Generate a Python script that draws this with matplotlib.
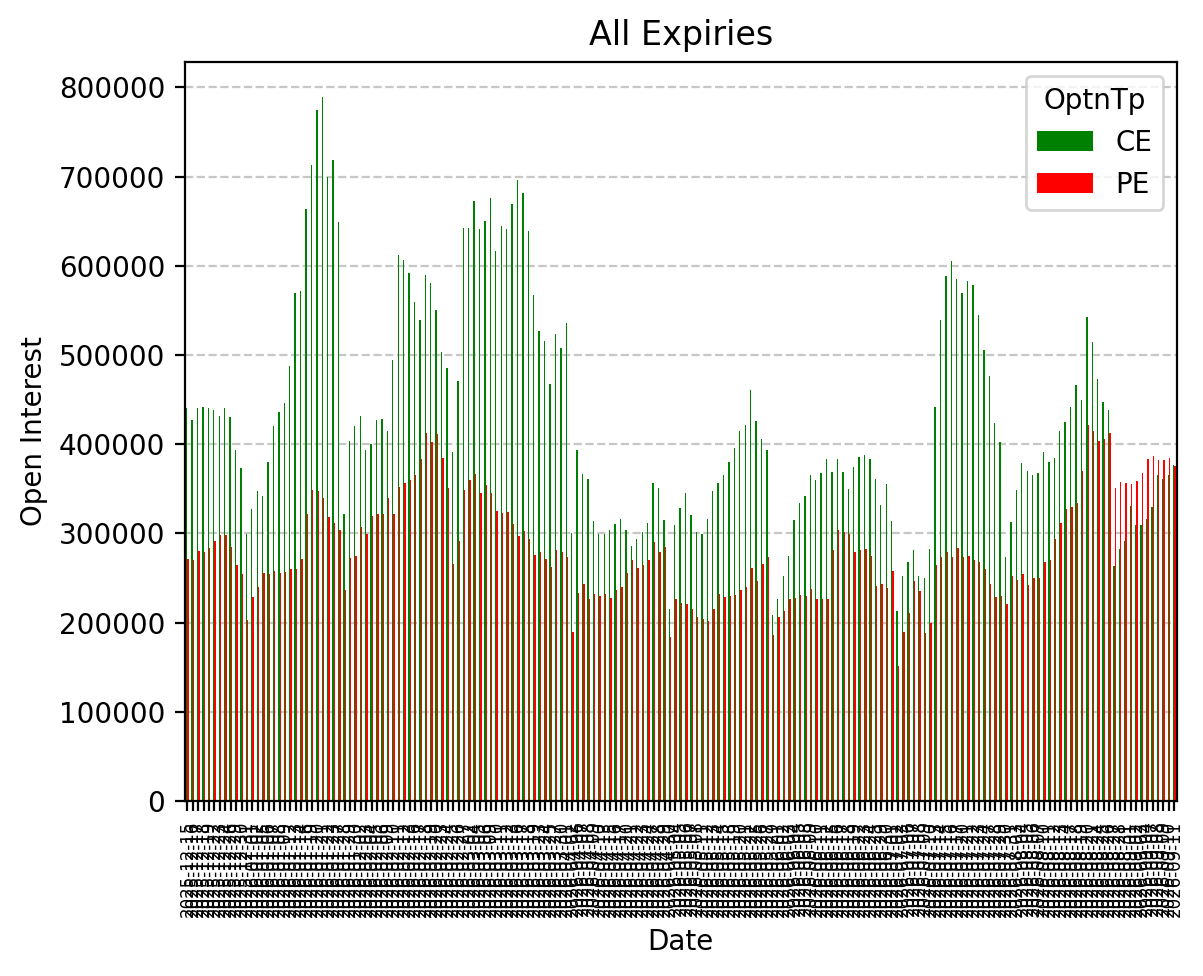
import numpy as np
import pandas as pd
import matplotlib
matplotlib.use('Agg')
import matplotlib.pyplot as plt

# trading days between the first and last label, exchange holidays removed
HOLIDAYS = ['2025-12-25', '2026-01-15', '2026-01-26', '2026-03-03', '2026-03-20',
            '2026-03-26', '2026-03-31', '2026-04-03', '2026-04-14', '2026-05-01',
            '2026-05-28', '2026-06-26']
dates = [d.strftime('%Y-%m-%d') for d in pd.bdate_range('2025-12-15', '2026-09-11')
         if d.strftime('%Y-%m-%d') not in HOLIDAYS]

# open interest, thousands
ce_k = [440, 427, 440, 442, 440, 438, 432, 441, 430, 394, 373, 299, 327, 348, 342, 380,
        420, 436, 446, 488, 569, 572, 664,
        713, 775, 789, 699, 719, 649, 322, 404, 420, 432, 394, 400, 427, 428, 415, 494,
        612, 607, 592, 559, 539, 590,
        581, 550, 503, 485, 391, 471, 642, 642, 673, 641, 650, 676, 617, 645, 641, 669,
        696, 682, 639, 567, 527, 516, 467,
        524, 508, 536, 300, 394, 367, 361, 314, 299, 299, 304, 310, 316, 304, 286, 294,
        301, 312, 357, 351, 315, 215, 309,
        329, 345, 321, 302, 299, 316, 348, 356, 366, 380, 396, 415, 421, 461, 426, 406,
        394, 208, 227, 252, 275, 315, 334,
        342, 366, 360, 368, 383, 369, 383, 369, 350, 374, 386, 388, 383, 361, 332, 355,
        314, 213, 252, 268, 281, 252, 250,
        283, 442, 539, 588, 605, 585, 570, 583, 578, 545, 506, 476, 424, 403, 274, 313,
        349, 379, 370, 366, 368, 391, 380,
        385, 415, 425, 442, 466, 450, 543, 514, 473, 447, 438, 263, 282, 292, 331, 309,
        309, 316, 330, 365, 361, 365, 377]

pe_k = [271, 270, 280, 279, 284, 292, 298, 298, 285, 264, 255, 203, 229, 240, 256, 255,
        258, 256, 257, 260, 260, 271, 322,
        349, 347, 340, 318, 312, 304, 236, 272, 275, 307, 299, 319, 322, 322, 340, 322,
        352, 357, 360, 366, 383, 412,
        403, 411, 384, 351, 266, 292, 349, 360, 367, 345, 354, 345, 325, 323, 324, 311,
        297, 303, 294, 276, 279, 271, 262,
        281, 279, 273, 190, 233, 243, 226, 232, 230, 232, 228, 237, 240, 256, 270, 261,
        264, 270, 290, 279, 285, 184, 226,
        222, 221, 215, 206, 204, 202, 215, 232, 229, 230, 231, 237, 240, 261, 247, 266,
        273, 186, 206, 213, 227, 228, 231,
        230, 238, 226, 227, 226, 281, 304, 301, 299, 279, 281, 283, 275, 241, 243, 239,
        258, 151, 190, 211, 247, 235, 188,
        200, 265, 274, 279, 273, 284, 274, 275, 270, 268, 260, 243, 229, 230, 221, 252,
        248, 255, 242, 250, 250, 268, 270,
        294, 312, 327, 330, 334, 370, 421, 415, 404, 406, 413, 351, 358, 356, 355, 359,
        368, 383, 387, 382, 382, 384, 376]

ce = np.array(ce_k) * 1000
pe = np.array(pe_k) * 1000

fig = plt.figure(figsize=(6.015, 4.88), dpi=200)
ax = fig.add_axes([0.1535, 0.1793, 0.8249, 0.7572])

x = np.arange(len(dates))
ax.bar(x - 0.125, ce, width=0.25, color='green', label='CE')
ax.bar(x + 0.125, pe, width=0.25, color='red', label='PE')

ax.set_xlim(-0.5, len(dates) - 0.5)
ax.set_xticks(x)
ax.set_xticklabels(dates, rotation=90, fontsize=6)
ax.tick_params(axis='y', labelsize=10)

ax.set_title('All Expiries', fontsize=12)
ax.set_xlabel('Date', fontsize=10)
ax.set_ylabel('Open Interest', fontsize=10)
ax.grid(axis='y', linestyle='--', alpha=0.7)
ax.set_axisbelow(True)
ax.legend(title='OptnTp', loc='upper right')

fig.savefig('out.png', dpi=200)
